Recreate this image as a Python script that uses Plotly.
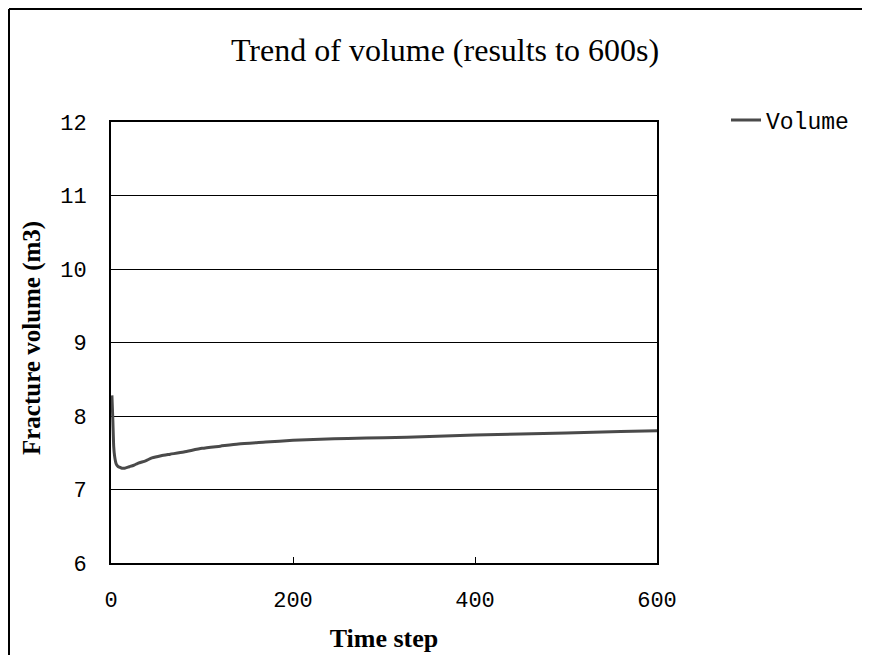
import plotly.graph_objects as go

time_step = [1, 2, 3, 4, 5, 6, 8, 10, 12, 15, 20, 25, 30, 38, 45, 55, 65, 80, 100, 120, 140, 170, 200, 230, 260, 300, 350, 400, 450, 500, 560, 600]
volume = [8.28, 7.95, 7.58, 7.45, 7.38, 7.34, 7.31, 7.30, 7.29, 7.29, 7.31, 7.33, 7.36, 7.39, 7.43, 7.46, 7.48, 7.51, 7.56, 7.59, 7.62, 7.645, 7.67, 7.685, 7.695, 7.705, 7.72, 7.74, 7.755, 7.77, 7.79, 7.80]

x_ticks = [0, 200, 400, 600]
y_ticks = [6, 7, 8, 9, 10, 11, 12]

# page has an 8px body margin; figure sized to fit the window
W, H = 854, 647
L, R, T, B = 103, 205, 114, 92
pw, ph = W - L - R, H - T - B

fig = go.Figure()
fig.add_trace(go.Scatter(
    x=time_step, y=volume, mode="lines", name="Volume",
    line=dict(color="#4a4a4a", width=3, shape="spline", smoothing=0.6),
))

mono = "Liberation Mono"
serif = "Liberation Serif"

fig.update_layout(
    width=W, height=H,
    margin=dict(l=L, r=R, t=T, b=B, autoexpand=False),
    paper_bgcolor="white", plot_bgcolor="white",
    title=dict(text="Trend of volume (results to 600s)", x=437 / W, xanchor="center",
               y=1 - 42 / H, yanchor="middle", font=dict(family=serif, size=32, color="black")),
    showlegend=True,
    legend=dict(x=(718 - L) / pw, xanchor="left", y=(H - B - 112) / ph, yanchor="middle",
                font=dict(family=mono, size=23, color="black"), bgcolor="rgba(0,0,0,0)"),
    xaxis=dict(range=[0, 600], tickvals=x_ticks, ticktext=[str(v) for v in x_ticks],
               showgrid=False, zeroline=False, showline=True, mirror=True, linecolor="black", linewidth=2,
               ticks="inside", ticklen=6, tickcolor="black", tickwidth=1,
               tickfont=dict(family=mono, size=22, color="black"), ticklabelstandoff=16,
               title=dict(text="<b>Time step</b>", font=dict(family=serif, size=26, color="black"), standoff=15)),
    yaxis=dict(range=[6, 12], tickvals=y_ticks, ticktext=[str(v) for v in y_ticks],
               showgrid=True, gridcolor="black", gridwidth=1, zeroline=False,
               showline=True, mirror=True, linecolor="black", linewidth=2, ticks="",
               tickfont=dict(family=mono, size=22, color="black"), ticklabelstandoff=18),
)

# y-axis title placed as a rotated annotation
fig.add_annotation(text="<b>Fracture volume (m3)</b>", xref="paper", yref="paper",
                   x=(24 - L) / pw, y=(H - B - 330) / ph, xanchor="center", yanchor="middle",
                   textangle=-90, showarrow=False, font=dict(family=serif, size=25, color="black"))

# outer chart frame (top and left edges visible)
fig.add_shape(type="line", xref="paper", yref="paper",
              x0=(1 - L) / pw, x1=(W - L) / pw, y0=(H - B - 1) / ph, y1=(H - B - 1) / ph,
              line=dict(color="black", width=2), layer="above")
fig.add_shape(type="line", xref="paper", yref="paper",
              x0=(1 - L) / pw, x1=(1 - L) / pw, y0=(H - B - 1) / ph, y1=(H - B - H) / ph,
              line=dict(color="black", width=2), layer="above")

fig.write_html("out.html")
